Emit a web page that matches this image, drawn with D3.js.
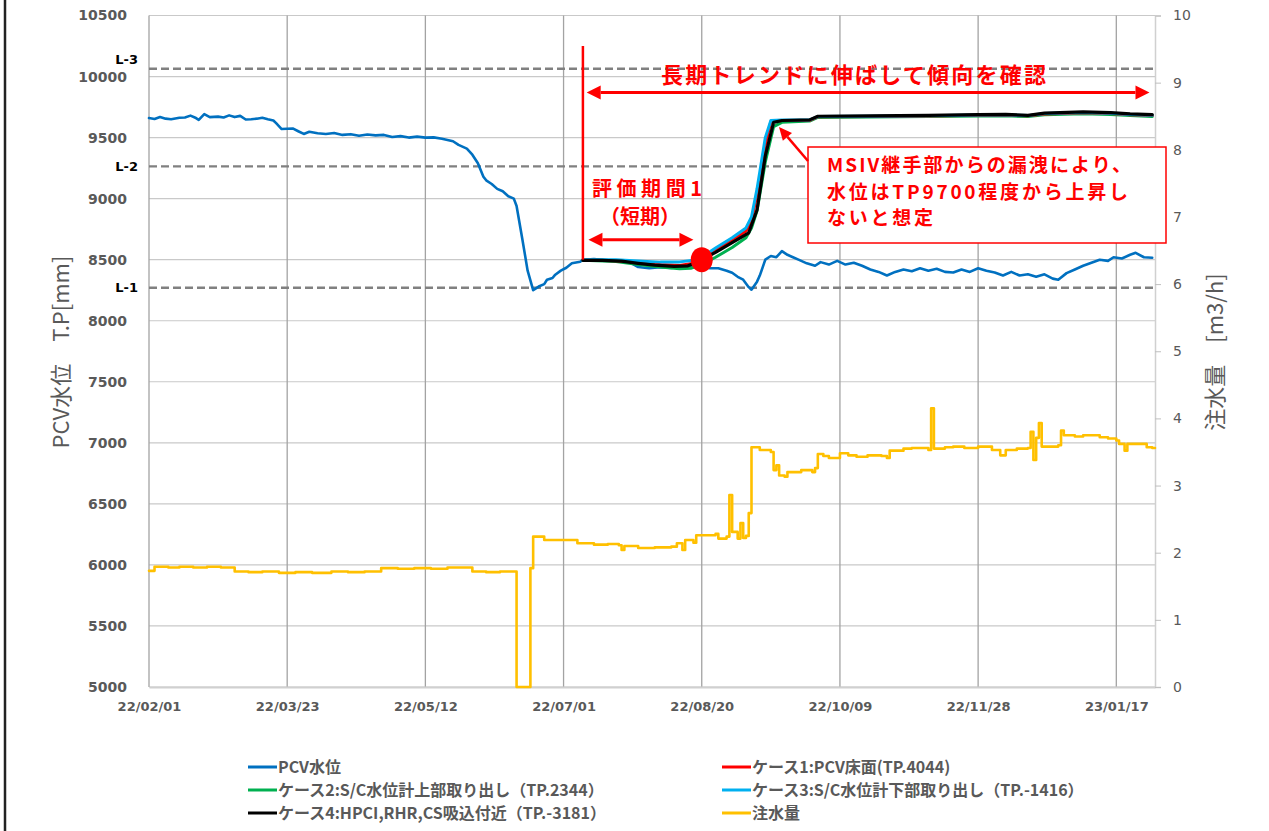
<!DOCTYPE html>
<html>
<head>
<meta charset="utf-8">
<script src="https://cdn.jsdelivr.net/npm/d3@7"></script>
<style>
  html, body { margin: 0; padding: 0; background: #fff; }
  svg { display: block; }
</style>
</head>
<body>
<svg id="chart" width="1269" height="831"></svg>
<script>
// ---------------- DATA ----------------
const xTickDates = ["2022-02-01","2022-03-23","2022-05-12","2022-07-01","2022-08-20","2022-10-09","2022-11-28","2023-01-17"];
const leftTicks = [5000,5500,6000,6500,7000,7500,8000,8500,9000,9500,10000,10500];
const rightTicks = [0,1,2,3,4,5,6,7,8,9,10];
const levelNames = ["L-3","L-2","L-1"];
const levelValues = [10064, 9264, 8270];

const pcvLevel = [
["2022-02-01",9660],["2022-02-03",9652],["2022-02-05",9668],["2022-02-07",9655],["2022-02-09",9650],
["2022-02-12",9662],["2022-02-14",9665],["2022-02-16",9680],["2022-02-18",9660],["2022-02-19",9645],
["2022-02-21",9692],["2022-02-23",9668],["2022-02-26",9672],["2022-02-28",9665],["2022-03-02",9682],
["2022-03-04",9668],["2022-03-06",9678],["2022-03-08",9648],["2022-03-10",9650],["2022-03-12",9655],
["2022-03-14",9662],["2022-03-16",9650],["2022-03-18",9640],["2022-03-19",9618],["2022-03-21",9570],
["2022-03-23",9572],["2022-03-25",9575],["2022-03-27",9552],["2022-03-29",9530],["2022-03-31",9548],
["2022-04-03",9536],["2022-04-06",9530],["2022-04-09",9538],["2022-04-12",9522],["2022-04-15",9528],
["2022-04-18",9515],["2022-04-21",9525],["2022-04-24",9518],["2022-04-27",9522],["2022-04-30",9505],
["2022-05-03",9512],["2022-05-06",9500],["2022-05-09",9508],["2022-05-12",9500],["2022-05-15",9502],
["2022-05-18",9490],["2022-05-20",9480],["2022-05-22",9470],["2022-05-24",9440],["2022-05-27",9410],
["2022-05-29",9360],["2022-05-31",9290],["2022-06-02",9180],["2022-06-03",9150],["2022-06-05",9120],
["2022-06-07",9080],["2022-06-09",9060],["2022-06-11",9020],["2022-06-13",9000],["2022-06-14",8940],
["2022-06-16",8680],["2022-06-18",8410],["2022-06-20",8250],["2022-06-22",8280],["2022-06-24",8300],
["2022-06-25",8336],["2022-06-27",8350],["2022-06-28",8377],["2022-06-30",8410],["2022-07-02",8434],
["2022-07-04",8470],["2022-07-07",8483],["2022-07-08",8500],["2022-07-12",8505],["2022-07-16",8498],
["2022-07-20",8490],["2022-07-25",8478],["2022-07-28",8440],["2022-08-01",8430],["2022-08-05",8438],
["2022-08-09",8432],["2022-08-13",8445],["2022-08-17",8440],["2022-08-20",8445],["2022-08-23",8430],
["2022-08-26",8430],["2022-08-29",8410],["2022-08-31",8393],["2022-09-02",8360],["2022-09-04",8336],
["2022-09-06",8275],["2022-09-07",8254],["2022-09-09",8320],["2022-09-10",8370],["2022-09-12",8500],
["2022-09-14",8530],["2022-09-16",8520],["2022-09-18",8570],["2022-09-20",8540],["2022-09-22",8520],
["2022-09-24",8500],["2022-09-27",8470],["2022-09-30",8450],["2022-10-02",8480],["2022-10-05",8460],
["2022-10-08",8490],["2022-10-11",8460],["2022-10-14",8475],["2022-10-17",8450],["2022-10-20",8420],
["2022-10-23",8400],["2022-10-26",8370],["2022-10-29",8400],["2022-11-01",8420],["2022-11-04",8405],
["2022-11-07",8430],["2022-11-10",8410],["2022-11-13",8425],["2022-11-16",8400],["2022-11-19",8395],
["2022-11-22",8420],["2022-11-25",8400],["2022-11-28",8430],["2022-12-01",8410],["2022-12-04",8395],
["2022-12-07",8370],["2022-12-10",8400],["2022-12-13",8370],["2022-12-16",8380],["2022-12-19",8360],
["2022-12-22",8380],["2022-12-25",8345],["2022-12-27",8336],["2022-12-30",8390],["2023-01-02",8420],
["2023-01-05",8450],["2023-01-08",8475],["2023-01-11",8500],["2023-01-14",8490],["2023-01-16",8520],
["2023-01-19",8510],["2023-01-22",8540],["2023-01-24",8556],["2023-01-27",8520],["2023-01-30",8516]
];

const case1 = [
["2022-07-08",8497],["2022-07-20",8492],["2022-07-28",8478],["2022-08-05",8460],["2022-08-12",8452],
["2022-08-17",8470],["2022-08-20",8510],["2022-08-25",8578],["2022-08-31",8660],["2022-09-05",8735],
["2022-09-07",8820],["2022-09-09",9040],["2022-09-12",9440],["2022-09-14",9630],["2022-09-18",9640],
["2022-09-28",9642],["2022-10-01",9670],["2022-10-20",9673],["2022-11-10",9677],["2022-11-28",9683],
["2022-12-08",9685],["2022-12-16",9678],["2022-12-22",9694],["2023-01-05",9703],["2023-01-15",9698],
["2023-01-22",9688],["2023-01-30",9680]
];
const case2 = [
["2022-07-08",8495],["2022-07-20",8485],["2022-07-28",8460],["2022-08-05",8440],["2022-08-12",8425],
["2022-08-16",8430],["2022-08-20",8460],["2022-08-25",8520],["2022-08-31",8600],["2022-09-05",8680],
["2022-09-07",8760],["2022-09-09",8900],["2022-09-12",9300],["2022-09-15",9590],["2022-09-18",9625],
["2022-09-28",9635],["2022-10-01",9665],["2022-10-20",9668],["2022-11-10",9672],["2022-11-28",9676],
["2022-12-08",9678],["2022-12-16",9672],["2022-12-22",9688],["2023-01-05",9695],["2023-01-15",9690],
["2023-01-22",9680],["2023-01-30",9672]
];
const case3 = [
["2022-07-08",8500],["2022-07-20",8500],["2022-07-28",8490],["2022-08-05",8480],["2022-08-12",8482],
["2022-08-17",8495],["2022-08-20",8520],["2022-08-25",8595],["2022-08-31",8680],["2022-09-05",8760],
["2022-09-07",8850],["2022-09-09",9080],["2022-09-12",9500],["2022-09-14",9640],["2022-09-18",9645],
["2022-09-28",9645],["2022-10-01",9672],["2022-10-20",9675],["2022-11-10",9679],["2022-11-28",9685],
["2022-12-08",9687],["2022-12-16",9680],["2022-12-22",9697],["2023-01-05",9706],["2023-01-15",9700],
["2023-01-22",9690],["2023-01-30",9682]
];
const case4 = [
["2022-07-08",8495],["2022-07-15",8495],["2022-07-22",8488],["2022-07-28",8470],["2022-08-03",8455],
["2022-08-10",8445],["2022-08-15",8450],["2022-08-18",8475],["2022-08-20",8500],["2022-08-25",8560],
["2022-08-31",8640],["2022-09-06",8720],["2022-09-09",8907],["2022-09-12",9350],["2022-09-15",9625],
["2022-09-18",9640],["2022-09-28",9645],["2022-10-01",9675],["2022-10-20",9678],["2022-11-10",9682],
["2022-11-28",9688],["2022-12-08",9690],["2022-12-16",9682],["2022-12-22",9700],["2023-01-05",9710],
["2023-01-15",9705],["2023-01-22",9695],["2023-01-30",9688]
];

const injection = [
["2022-02-01",1.73],["2022-02-03",1.79],["2022-02-08",1.78],["2022-02-12",1.79],["2022-02-17",1.78],
["2022-02-22",1.79],["2022-02-27",1.78],["2022-03-04",1.72],["2022-03-09",1.71],["2022-03-14",1.72],
["2022-03-20",1.70],["2022-03-26",1.71],["2022-04-01",1.70],["2022-04-08",1.72],["2022-04-14",1.71],
["2022-04-20",1.72],["2022-04-26",1.77],["2022-05-02",1.76],["2022-05-08",1.77],["2022-05-14",1.76],
["2022-05-20",1.78],["2022-05-29",1.72],["2022-06-03",1.71],["2022-06-08",1.72],["2022-06-14",0.0],
["2022-06-19",1.77],["2022-06-20",2.24],["2022-06-24",2.19],["2022-07-06",2.14],["2022-07-12",2.12],
["2022-07-17",2.13],["2022-07-21",2.11],["2022-07-22",2.04],["2022-07-23",2.10],["2022-07-28",2.07],
["2022-08-03",2.08],["2022-08-09",2.09],["2022-08-11",2.14],["2022-08-13",2.04],["2022-08-14",2.19],
["2022-08-17",2.15],["2022-08-18",2.26],["2022-08-25",2.28],["2022-08-26",2.21],["2022-08-29",2.24],
["2022-08-30",2.86],["2022-08-31",2.31],["2022-09-02",2.21],["2022-09-03",2.44],["2022-09-04",2.22],
["2022-09-05",2.25],["2022-09-06",2.59],["2022-09-07",3.57],["2022-09-10",3.53],["2022-09-14",3.50],
["2022-09-15",3.23],["2022-09-16",3.30],["2022-09-17",3.15],["2022-09-19",3.13],["2022-09-20",3.20],
["2022-09-25",3.23],["2022-09-29",3.20],["2022-09-30",3.26],["2022-10-01",3.47],["2022-10-03",3.44],
["2022-10-05",3.41],["2022-10-09",3.48],["2022-10-12",3.45],["2022-10-15",3.43],["2022-10-19",3.45],
["2022-10-24",3.44],["2022-10-26",3.41],["2022-10-27",3.52],["2022-11-01",3.55],["2022-11-04",3.56],
["2022-11-10",3.53],["2022-11-11",4.15],["2022-11-12",3.55],["2022-11-16",3.57],["2022-11-19",3.58],
["2022-11-23",3.56],["2022-11-28",3.58],["2022-12-03",3.53],["2022-12-06",3.45],["2022-12-08",3.53],
["2022-12-12",3.55],["2022-12-16",3.56],["2022-12-17",3.80],["2022-12-18",3.38],["2022-12-19",3.71],
["2022-12-20",3.93],["2022-12-21",3.58],["2022-12-27",3.60],["2022-12-28",3.82],["2022-12-29",3.75],
["2023-01-02",3.73],["2023-01-05",3.75],["2023-01-11",3.72],["2023-01-14",3.70],["2023-01-17",3.67],
["2023-01-18",3.62],["2023-01-20",3.52],["2023-01-21",3.62],["2023-01-26",3.62],["2023-01-28",3.57],
["2023-01-30",3.56],["2023-01-31",3.56]
];

const seriesNames = ["PCV水位","ケース1:PCV床面(TP.4044)","ケース2:S/C水位計上部取り出し（TP.2344）","ケース3:S/C水位計下部取り出し（TP.-1416）","ケース4:HPCI,RHR,CS吸込付近（TP.-3181）","注水量"];
const seriesColors = ["#0070C0","#FF0000","#00B050","#00B0F0","#000000","#FFC000"];

// Annotation values
const evalStart = "2022-07-08";
const evalDot = ["2022-08-20", 8500];

// ---------------- CHART ----------------
const parse = d3.timeParse("%Y-%m-%d");
const fmt = d3.timeFormat("%y/%m/%d");
const svg = d3.select("#chart");
const L = 149, R = 1155, T = 15.5, B = 687;

const x = d3.scaleTime().domain([parse("2022-02-01"), parse("2023-01-31")]).range([L, R]);
const yL = d3.scaleLinear().domain([5000, 10500]).range([B, T]);
const yR = d3.scaleLinear().domain([0, 10]).range([B, T]);

const GRAY = "#595959";
const numFont = "'DejaVu Sans', sans-serif";
const jpFont = "'Noto Sans CJK JP', 'Noto Sans', sans-serif";

// outer frame line on the left
svg.append("line").attr("x1", 5).attr("x2", 5).attr("y1", 0).attr("y2", 831)
  .attr("stroke", "#222").attr("stroke-width", 2.5);

// horizontal gridlines
svg.append("g").selectAll("line").data(leftTicks).join("line")
  .attr("x1", L).attr("x2", R)
  .attr("y1", d => yL(d)).attr("y2", d => yL(d))
  .attr("stroke", "#c9c9c9").attr("stroke-width", 1.2);

// vertical gridlines
svg.append("g").selectAll("line").data(xTickDates).join("line")
  .attr("x1", d => x(parse(d))).attr("x2", d => x(parse(d)))
  .attr("y1", T).attr("y2", B)
  .attr("stroke", "#a3a3a3").attr("stroke-width", 1.3);

// bottom axis
const gx = svg.append("g").attr("transform", `translate(0,${B})`)
  .call(d3.axisBottom(x).tickValues(xTickDates.map(parse)).tickFormat(fmt).tickSize(0).tickPadding(15));
gx.select(".domain").attr("stroke", "#d0d0d0").attr("stroke-width", 2);
gx.selectAll("text").attr("font-family", numFont).attr("font-weight", "bold")
  .attr("font-size", 13).attr("fill", GRAY);

// left axis
const gyl = svg.append("g").attr("transform", `translate(${L},0)`)
  .call(d3.axisLeft(yL).tickValues(leftTicks).tickSize(0).tickPadding(22).tickFormat(d3.format("d")));
gyl.select(".domain").remove();
gyl.selectAll("text").attr("font-family", numFont).attr("font-weight", "bold")
  .attr("font-size", 14).attr("fill", GRAY);

// right axis
const gyr = svg.append("g").attr("transform", `translate(${R},0)`)
  .call(d3.axisRight(yR).tickValues(rightTicks).tickSize(6).tickPadding(12));
gyr.select(".domain").attr("stroke", "#d0d0d0").attr("stroke-width", 1.5);
gyr.selectAll(".tick line").attr("stroke", "#bfbfbf");
gyr.selectAll("text").attr("font-family", numFont).attr("font-size", 14).attr("fill", GRAY);

// axis titles
svg.append("text").attr("transform", `translate(69,352) rotate(-90)`)
  .attr("text-anchor", "middle").attr("font-family", jpFont).attr("font-size", 22)
  .attr("fill", GRAY).text("PCV水位　T.P[mm]");
svg.append("text").attr("transform", `translate(1223,352) rotate(-90)`)
  .attr("text-anchor", "middle").attr("font-family", jpFont).attr("font-size", 22)
  .attr("fill", GRAY).text("注水量　[m3/h]");

// level dashed lines
const lv = svg.append("g");
lv.selectAll("line").data(levelValues).join("line")
  .attr("x1", L).attr("x2", R)
  .attr("y1", d => yL(d)).attr("y2", d => yL(d))
  .attr("stroke", "#808080").attr("stroke-width", 2.3).attr("stroke-dasharray", "8,4");
lv.selectAll("text").data(levelValues).join("text")
  .attr("x", 138).attr("y", (d, i) => yL(d) + (i === 0 ? -9 : 0))
  .attr("dy", "0.36em").attr("text-anchor", "end")
  .attr("font-family", numFont).attr("font-weight", "bold").attr("font-size", 13)
  .attr("fill", "#000").text((d, i) => levelNames[i]);

// lines
const toPts = arr => arr.map(([d, v]) => ({ date: parse(d), v }));
const lineL = d3.line().x(d => x(d.date)).y(d => yL(d.v));
const lineR = d3.line().x(d => x(d.date)).y(d => yR(d.v)).curve(d3.curveStepAfter);

const gLines = svg.append("g").attr("fill", "none").attr("stroke-linejoin", "round").attr("stroke-linecap", "round");
gLines.append("path").datum(toPts(injection)).attr("d", lineR)
  .attr("stroke", seriesColors[5]).attr("stroke-width", 2.6);
gLines.append("path").datum(toPts(pcvLevel)).attr("d", lineL)
  .attr("stroke", seriesColors[0]).attr("stroke-width", 2.6);
[[case2, 2], [case1, 1], [case3, 3], [case4, 4]].forEach(([arr, i]) => {
  gLines.append("path").datum(toPts(arr)).attr("d", lineL)
    .attr("stroke", seriesColors[i]).attr("stroke-width", i === 4 ? 3.2 : 3);
});

// ---------------- ANNOTATIONS ----------------
const RED = "#FF0000";
const ann = svg.append("g");

function arrowHead(g, tipX, tipY, fromX, fromY, len, wid) {
  const a = Math.atan2(tipY - fromY, tipX - fromX);
  const bx = tipX - len * Math.cos(a), by = tipY - len * Math.sin(a);
  const px = Math.sin(a) * wid / 2, py = -Math.cos(a) * wid / 2;
  g.append("path").attr("d", `M${tipX},${tipY}L${bx + px},${by + py}L${bx - px},${by - py}Z`).attr("fill", RED);
  return [bx, by];
}
function arrow(g, x1, y1, x2, y2, both, len = 15, wid = 13, sw = 3) {
  let s = [x1, y1];
  if (both) s = arrowHead(g, x1, y1, x2, y2, len - 2, wid);
  const e = arrowHead(g, x2, y2, x1, y1, len - 2, wid);
  g.append("line").attr("x1", s[0]).attr("y1", s[1]).attr("x2", e[0]).attr("y2", e[1])
    .attr("stroke", RED).attr("stroke-width", sw);
}

// vertical start line
ann.append("line").attr("x1", x(parse(evalStart))).attr("x2", x(parse(evalStart)))
  .attr("y1", yL(10250)).attr("y2", yL(8500)).attr("stroke", RED).attr("stroke-width", 2.5);

// long-term arrow
arrow(ann, x(parse("2022-07-09")) + 1, yL(9870), x(parse("2023-01-29")), yL(9870), true, 16, 14);
ann.append("text").attr("x", 661).attr("y", 83).attr("textLength", 385).attr("lengthAdjust", "spacing")
  .attr("font-family", jpFont).attr("font-weight", "bold").attr("font-size", 22).attr("fill", RED)
  .text("長期トレンドに伸ばして傾向を確認");

// short-term arrow
arrow(ann, x(parse("2022-07-10")), yL(8663), x(parse("2022-08-17")), yL(8663), true, 16, 14);
ann.append("text").attr("x", 592).attr("y", 196).attr("textLength", 110).attr("lengthAdjust", "spacing")
  .attr("font-family", jpFont).attr("font-weight", "bold").attr("font-size", 20).attr("fill", RED)
  .text("評価期間1");
ann.append("text").attr("x", 640).attr("y", 224).attr("text-anchor", "middle")
  .attr("font-family", jpFont).attr("font-weight", "bold").attr("font-size", 20).attr("fill", RED)
  .text("（短期）");

// red dot
ann.append("ellipse").attr("cx", x(parse(evalDot[0]))).attr("cy", yL(evalDot[1]))
  .attr("rx", 11).attr("ry", 12.5).attr("fill", RED);

// callout box
ann.append("rect").attr("x", 808).attr("y", 147).attr("width", 358).attr("height", 96)
  .attr("fill", "#fff").attr("stroke", RED).attr("stroke-width", 1.5);
const boxLines = ["MSIV継手部からの漏洩により、", "水位はTP9700程度から上昇し", "ないと想定"];
const boxLens = [304, 301, 106];
ann.selectAll("text.box").data(boxLines).join("text").attr("class", "box")
  .attr("x", 827).attr("y", (d, i) => 172 + i * 26.5)
  .attr("textLength", (d, i) => boxLens[i]).attr("lengthAdjust", "spacing")
  .attr("font-family", jpFont).attr("font-weight", "bold").attr("font-size", 19).attr("fill", RED)
  .text(d => d);
// callout arrow
arrow(ann, 808, 161, 779, 127, false, 15, 12, 2.5);

// ---------------- LEGEND ----------------
const legendCols = [248, 722];
const legendRows = [767, 790, 813];
const legendOrder = [[0, 0, 0], [1, 1, 0], [2, 0, 1], [3, 1, 1], [4, 0, 2], [5, 1, 2]];
const lg = svg.append("g");
legendOrder.forEach(([i, c, r]) => {
  const lx = legendCols[c], ly = legendRows[r];
  lg.append("line").attr("x1", lx).attr("x2", lx + 29).attr("y1", ly).attr("y2", ly)
    .attr("stroke", seriesColors[i]).attr("stroke-width", 3);
  lg.append("text").attr("x", lx + 30).attr("y", ly).attr("dy", "0.36em")
    .attr("font-family", jpFont).attr("font-weight", "bold").attr("font-size", 16)
    .attr("fill", GRAY).text(seriesNames[i]);
});
</script>
</body>
</html>
